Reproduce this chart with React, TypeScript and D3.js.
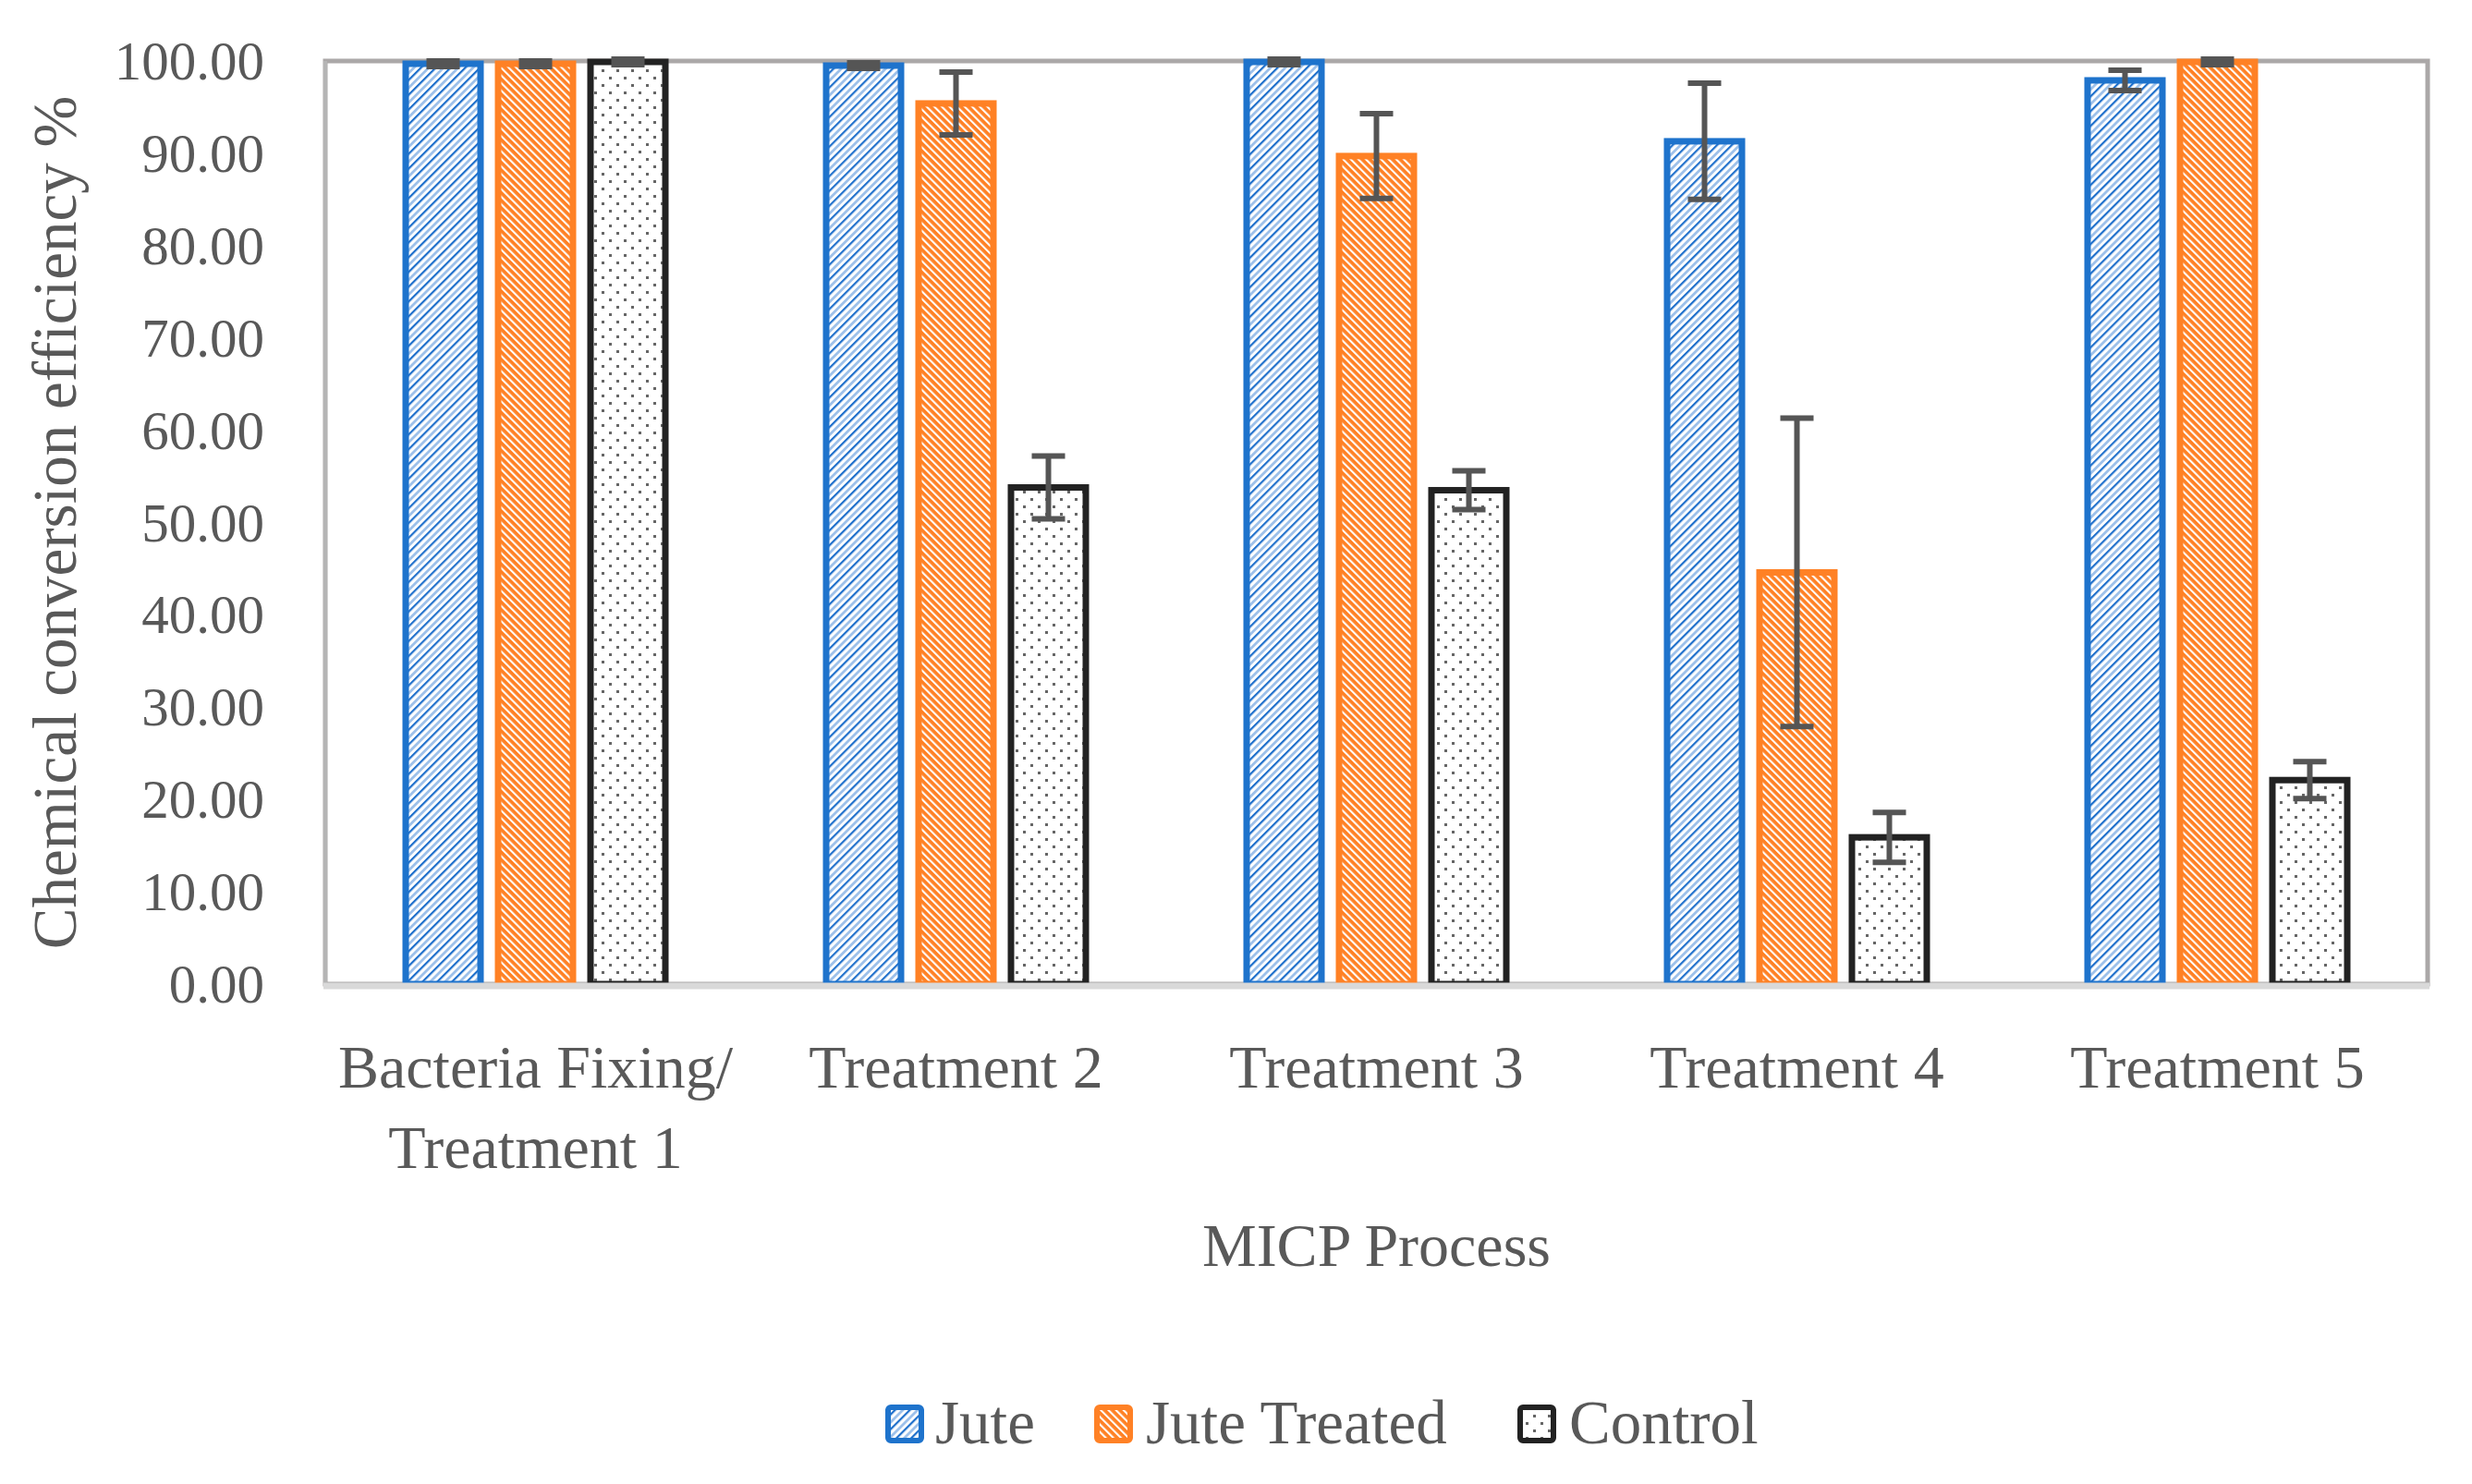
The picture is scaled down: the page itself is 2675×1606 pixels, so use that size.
import * as d3 from 'd3';
import { useEffect } from 'react';

const categories = ['Bacteria Fixing/\nTreatment 1', 'Treatment 2', 'Treatment 3', 'Treatment 4', 'Treatment 5'];
const seriesNames = ['Jute', 'Jute Treated', 'Control'];
const juteValues = [99.7, 99.5, 99.9, 91.3, 97.9];
const juteErrors = [0.3, 0.3, 0.3, 6.3, 1.1];
const juteTreatedValues = [99.7, 95.4, 89.7, 44.6, 99.9];
const juteTreatedErrors = [0.3, 3.4, 4.6, 16.7, 0.3];
const controlValues = [99.9, 53.8, 53.5, 15.9, 22.1];
const controlErrors = [0.3, 3.4, 2.1, 2.7, 2.0];
const yTicks = [0, 10, 20, 30, 40, 50, 60, 70, 80, 90, 100];

const W = 2675;
const H = 1606;
const left = 352;
const right = 2627;
const top = 66;
const bottom = 1065;
const textColor = '#595959';
const font = '"Liberation Serif", "Times New Roman", serif';

const seriesStyle = [
  { stroke: '#1E73CC', fill: 'url(#pJute)' },
  { stroke: '#FF8125', fill: 'url(#pJuteTreated)' },
  { stroke: '#222222', fill: 'url(#pControl)' }
];

export default function App(): JSX.Element {
  useEffect(() => {
    document.body.style.margin = '0';
  }, []);

  const values = [juteValues, juteTreatedValues, controlValues];
  const errors = [juteErrors, juteTreatedErrors, controlErrors];

  const x0 = d3.scaleBand<string>().domain(categories).range([left, right]).padding(0);
  const x1 = d3
    .scaleBand<string>()
    .domain(seriesNames)
    .range([-150, 150])
    .paddingInner(0.19)
    .paddingOuter(0.095);
  const y = d3.scaleLinear().domain([0, 100]).range([bottom, top]);
  const fmt = d3.format('.2f');
  const capHalf = 18;

  const bars = categories.flatMap((c, ci) =>
    seriesNames.map((s, si) => {
      const v = values[si][ci];
      const cx = (x0(c) as number) + x0.bandwidth() / 2;
      const bx = cx + (x1(s) as number);
      return (
        <rect
          key={`b-${ci}-${si}`}
          x={bx}
          y={y(v)}
          width={x1.bandwidth()}
          height={y(0) - y(v)}
          fill={seriesStyle[si].fill}
          stroke={seriesStyle[si].stroke}
          strokeWidth={7}
        />
      );
    })
  );

  const errBars = categories.flatMap((c, ci) =>
    seriesNames.map((s, si) => {
      const v = values[si][ci];
      const e = errors[si][ci];
      const cx = (x0(c) as number) + x0.bandwidth() / 2 + (x1(s) as number) + x1.bandwidth() / 2;
      const yHi = y(Math.min(v + e, 100.3));
      const yLo = y(v - e);
      return (
        <g key={`e-${ci}-${si}`} stroke="#555555" strokeWidth={6}>
          <line x1={cx} x2={cx} y1={yHi} y2={yLo} />
          <line x1={cx - capHalf} x2={cx + capHalf} y1={yHi} y2={yHi} />
          <line x1={cx - capHalf} x2={cx + capHalf} y1={yLo} y2={yLo} />
        </g>
      );
    })
  );

  const legendItems = [
    { marker: 958, text: 1012 },
    { marker: 1184, text: 1240 },
    { marker: 1642, text: 1698 }
  ];

  return (
    <svg width={W} height={H} style={{ display: 'block', background: '#fff' }} fontFamily={font}>
      <defs>
        <pattern id="pJute" width={11.3} height={20} patternUnits="userSpaceOnUse" patternTransform="rotate(45)">
          <rect width={11.3} height={20} fill="#ffffff" />
          <rect x={0} width={2.2} height={20} fill="#1E6FCB" />
          <rect x={5.6} width={2.8} height={20} fill="#9CC0EA" />
        </pattern>
        <pattern id="pJuteTreated" width={5.8} height={20} patternUnits="userSpaceOnUse" patternTransform="rotate(-45)">
          <rect width={5.8} height={20} fill="#FF8125" />
          <rect x={0} width={2.1} height={20} fill="#ffffff" />
        </pattern>
        <pattern id="pControl" width={16} height={16} patternUnits="userSpaceOnUse">
          <rect width={16} height={16} fill="#ffffff" />
          <rect x={3} y={3} width={3} height={3} fill="#666666" />
          <rect x={11} y={11} width={3} height={3} fill="#666666" />
        </pattern>
      </defs>

      {/* plot frame */}
      <rect x={left} y={top} width={right - left} height={bottom - top} fill="none" stroke="#ABA8A8" strokeWidth={5} />
      <line x1={left} x2={left} y1={top} y2={bottom} stroke="#B5B5B5" strokeWidth={4} />

      {bars}
      {errBars}

      <line x1={left - 2} x2={right + 2} y1={bottom + 2} y2={bottom + 2} stroke="#D9D9D9" strokeWidth={7} />

      {/* y ticks */}
      {yTicks.map((t) => (
        <text key={t} x={286} y={y(t)} dy="0.34em" textAnchor="end" fontSize={59} fill={textColor}>
          {fmt(t)}
        </text>
      ))}

      {/* x labels */}
      {categories.map((c) => {
        const cx = (x0(c) as number) + x0.bandwidth() / 2;
        return (
          <text key={c} x={cx} y={1177} textAnchor="middle" fontSize={66} fill={textColor}>
            {c.split('\n').map((line, i) => (
              <tspan key={i} x={cx} dy={i === 0 ? 0 : 87}>
                {line}
              </tspan>
            ))}
          </text>
        );
      })}

      <text x={(left + right) / 2} y={1370} textAnchor="middle" fontSize={66} fill={textColor}>
        MICP Process
      </text>

      <text
        transform={`translate(60, ${(top + bottom) / 2}) rotate(-90)`}
        textAnchor="middle"
        dy="0.33em"
        fontSize={67}
        fill={textColor}
      >
        Chemical conversion efficiency %
      </text>

      {/* legend */}
      {seriesNames.map((s, si) => (
        <g key={s}>
          <rect
            x={legendItems[si].marker + 3}
            y={1523}
            width={36}
            height={36}
            rx={3}
            fill={seriesStyle[si].fill}
            stroke={seriesStyle[si].stroke}
            strokeWidth={6}
          />
          <text x={legendItems[si].text} y={1562} fontSize={67} fill={textColor}>
            {s}
          </text>
        </g>
      ))}
    </svg>
  );
}
